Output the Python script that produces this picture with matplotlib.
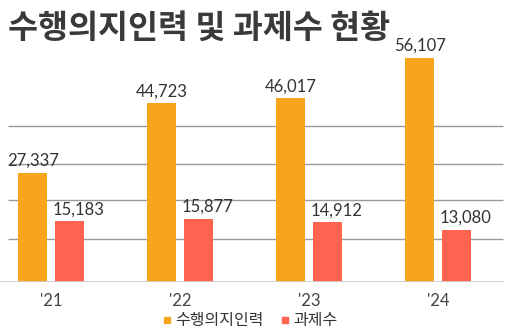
import matplotlib.pyplot as plt
from matplotlib.lines import Line2D
import numpy as np

plt.rcParams['font.family'] = ['Noto Sans CJK KR', 'DejaVu Sans']

years = ["'21", "'22", "'23", "'24"]
workforce = [27337, 44723, 46017, 56107]   # 수행의지인력
tasks = [15183, 15877, 14912, 13080]       # 과제수
grid_values = [10700, 20500, 29500, 39100]

orange = '#F8A51B'
red = '#FF6451'
text_color = '#333333'

fig = plt.figure(figsize=(5.11, 3.35), dpi=100)
ax = fig.add_axes([0, 53 / 335, 1, 282 / 335])

x = np.arange(len(years))
w = 0.225
off = 0.143

ax.set_xlim(-0.398, 3.563)
ax.set_ylim(0, 70640)

# gridlines and baseline
ax.hlines(grid_values, -0.336, 3.50, color='#9a9a9a', lw=1.0, zorder=0)
ax.hlines(0, -0.398, 3.50, color='#cccccc', lw=2.0, zorder=3)

ax.bar(x - off, workforce, w, color=orange, zorder=2)
ax.bar(x + off, tasks, w, color=red, zorder=2)

num_font = dict(family='Lato', fontsize=12, color=text_color)
for xi, v in zip(x, workforce):
    ax.annotate(f'{v:,}', (xi - off, v), xytext=(0, 3), textcoords='offset points',
                ha='center', va='bottom', **num_font)
for xi, v in zip(x, tasks):
    ax.annotate(f'{v:,}', (xi + off - w / 2, v), xytext=(-2, 3), textcoords='offset points',
                ha='left', va='bottom', **num_font)

ax.set_xticks(x)
ax.set_xticklabels(years, family='Lato', fontsize=12, color='#444444')
ax.tick_params(axis='x', length=0, pad=8)
ax.set_yticks([])
for s in ax.spines.values():
    s.set_visible(False)
ax.patch.set_alpha(0)

fig.text(8 / 511, 1 - 28 / 335, '수행의지인력 및 과제수 현황', fontsize=23.5, fontweight='bold',
         color='#3a3a3a', va='center', ha='left')

handles = [Line2D([], [], marker='s', ls='none', color=orange, markersize=5),
           Line2D([], [], marker='s', ls='none', color=red, markersize=5)]
fig.legend(handles, ['수행의지인력', '과제수'], loc='center', bbox_to_anchor=(250 / 511, 1 - 321 / 335),
           ncol=2, frameon=False, fontsize=11.5, handlelength=0.6, handletextpad=0.25,
           columnspacing=1.0, labelcolor=text_color)

fig.savefig('out.png', dpi=100)
